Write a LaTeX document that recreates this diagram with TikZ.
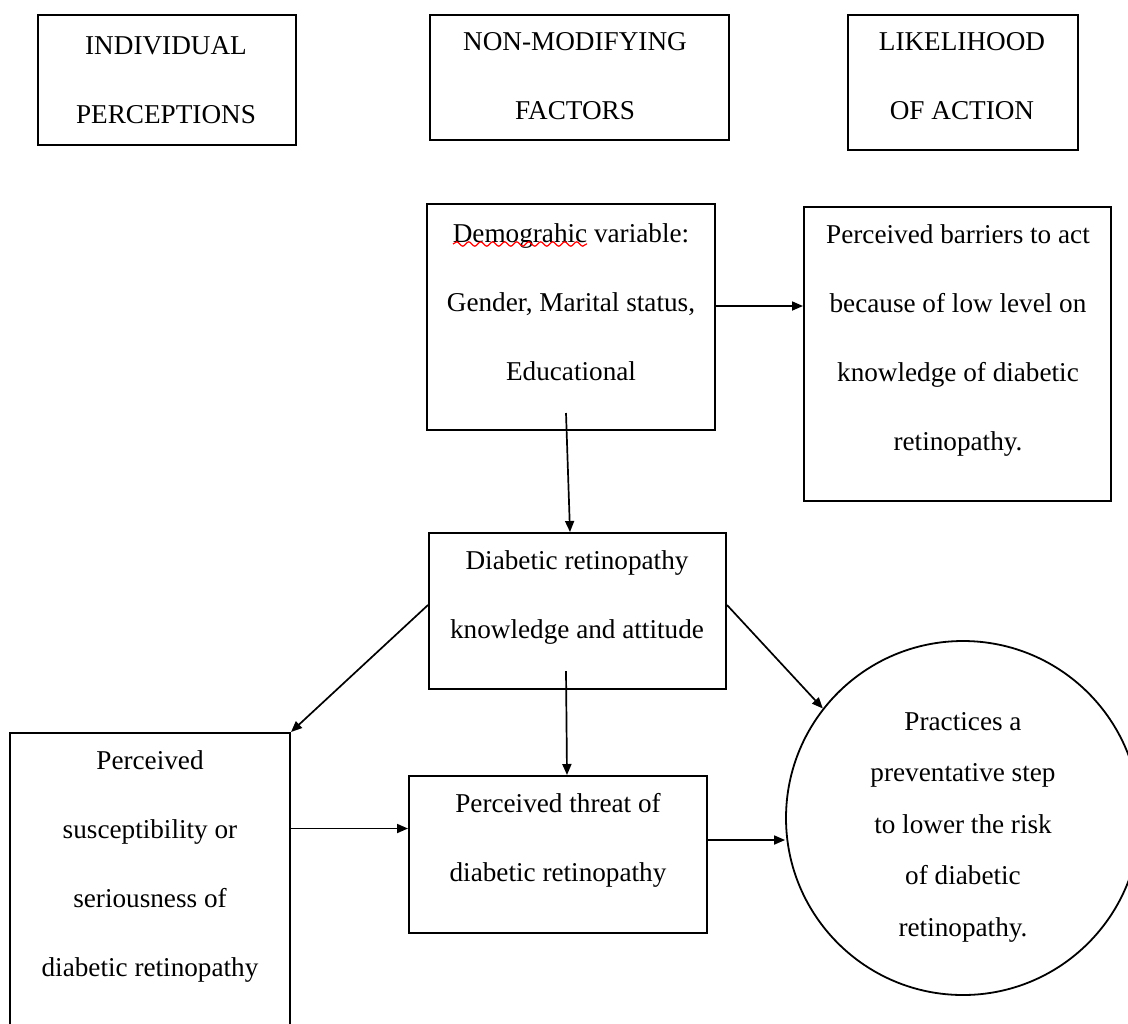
\documentclass[tikz,border=0pt]{standalone}
\usepackage{fontspec}
\setmainfont{Liberation Serif}
\usetikzlibrary{positioning}
\usetikzlibrary{arrows.meta}
\usetikzlibrary{decorations.pathmorphing}

\begin{document}
\begin{tikzpicture}[x=0.5pt,y=-0.5pt,
	box/.style={draw,rectangle,line width=1pt,inner sep=0pt},
	txt/.style={align=center,inner sep=0pt,font=\fontsize{13.6pt}{34.5pt}\selectfont},
	circtxt/.style={txt,font=\fontsize{13.6pt}{25.75pt}\selectfont},
	arr/.style={line width=0.85pt,-{Triangle[length=5.5pt,width=4.5pt]}}]
		\useasboundingbox (0,0) rectangle (1128,1023);
		\clip (0,0) rectangle (1128,1023);
		%Headers
			\node[box,minimum width=129pt,minimum height=65pt] (indiv) at (167,80) {};
			\node[txt] (indivtxt) at (166,80) {INDIVIDUAL\\PERCEPTIONS};
			\node[box,minimum width=149.5pt,minimum height=62.5pt] (nonmod) at (579.5,77.5) {};
			\node[txt] (nonmodtxt) at (575,76) {NON-MODIFYING\\FACTORS};
			\node[box,minimum width=115pt,minimum height=67.5pt] (likely) at (963,82.5) {};
			\node[txt] (likelytxt) at (962,76) {LIKELIHOOD\\OF ACTION};
		%Upper boxes
			\node[box,minimum width=144pt,minimum height=113pt] (demo) at (571,317) {};
			\node[txt] (demotxt) at (571,302) {Demograhic variable:\\Gender, Marital status,\\Educational};
			\draw[red,line width=0.6pt,decorate,decoration={snake,segment length=6pt,amplitude=1.1pt}] (453,244) -- (587,244);
			\node[box,minimum width=153.5pt,minimum height=147pt] (barrier) at (957.5,354) {};
			\node[txt] (barriertxt) at (958,340) {Perceived barriers to act\\because of low level on\\knowledge of diabetic\\retinopathy.};
			\node[box,minimum width=148.5pt,minimum height=78pt] (know) at (577.5,611) {};
			\node[txt] (knowtxt) at (577,597) {Diabetic retinopathy\\knowledge and attitude};
		%Lower boxes
			\node[box,minimum width=140pt,minimum height=163.5pt] (suscept) at (150,896.5) {};
			\node[txt] (suscepttxt) at (150,866) {Perceived\\susceptibility or\\seriousness of\\diabetic retinopathy};
			\node[box,minimum width=149pt,minimum height=78.5pt] (threat) at (558,854.5) {};
			\node[txt] (threattxt) at (558,840) {Perceived threat of\\diabetic retinopathy};
		%Circle
			\node[draw,circle,line width=0.9pt,minimum size=177pt,inner sep=0pt] (circ) at (963,818) {};
			\node[circtxt] (circtxt) at (963,827) {Practices a\\preventative step\\to lower the risk\\of diabetic\\retinopathy.};
		%Arrows
			\draw[arr] ([yshift=5.5pt]demo.east) -- ([yshift=5.5pt]demo.east -| barrier.west);
			\draw[arr] ([xshift=-2.5pt,yshift=9pt]demo.south) -- ([xshift=-3.75pt]know.north);
			\draw[arr] ([yshift=3pt]know.west) -- (suscept.north east);
			\draw[arr] ([yshift=3pt]know.east) -- (circ.142);
			\draw[arr] ([xshift=-5.75pt,yshift=9.5pt]know.south) -- ([xshift=4.5pt]threat.north);
			\draw[arr] ([yshift=34pt]suscept.east) -- ([yshift=34pt]suscept.east -| threat.west);
			\draw[arr] ([yshift=7.25pt]threat.east) -- ([yshift=7.25pt]threat.east -| circ.west);
\end{tikzpicture}
\end{document}
